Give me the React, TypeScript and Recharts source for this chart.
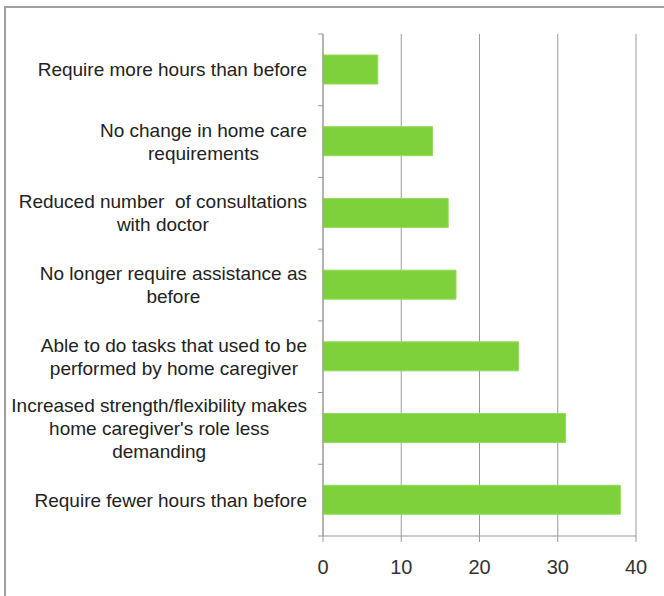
import React from 'react';
import { BarChart, Bar, XAxis, YAxis, CartesianGrid } from 'recharts';

const categories = [
  'Require more hours than before',
  'No change in home care\nrequirements',
  'Reduced number  of consultations\nwith doctor',
  'No longer require assistance as\nbefore',
  'Able to do tasks that used to be\nperformed by home caregiver',
  "Increased strength/flexibility makes\nhome caregiver's role less\ndemanding",
  'Require fewer hours than before',
];
const values = [7, 14, 16, 17, 25, 31, 38];
const xTicks = [0, 10, 20, 30, 40];

const data = categories.map((name, i) => ({ name, value: values[i] }));

const LABEL_FONT = '19px "Liberation Sans", Arial, sans-serif';
const AXIS_COLOR = '#9a9a9a';

let ctx: CanvasRenderingContext2D | null = null;
const measure = (s: string) => {
  if (!ctx) {
    ctx = document.createElement('canvas').getContext('2d');
    if (ctx) ctx.font = LABEL_FONT;
  }
  return ctx ? ctx.measureText(s).width : s.length * 9;
};

const CategoryTick = (props: any) => {
  const { x, y, payload, index } = props;
  const lines: string[] = String(payload.value).split('\n');
  const half = payload.offset ?? 35.8;
  const right = x - 16;
  const widest = Math.max(...lines.map(measure));
  const cx = right - widest / 2;
  const lh = 23;
  const startY = y - ((lines.length - 1) * lh) / 2;
  return (
    <g>
      <line x1={x - 5} x2={x} y1={y - half} y2={y - half} stroke={AXIS_COLOR} />
      {index === categories.length - 1 && (
        <line x1={x - 5} x2={x} y1={y + half} y2={y + half} stroke={AXIS_COLOR} />
      )}
      <text
        x={cx}
        y={startY}
        textAnchor="middle"
        fill="#222"
        style={{ font: LABEL_FONT, whiteSpace: 'pre' }}
      >
        {lines.map((l, i) => (
          <tspan key={i} x={cx} y={startY + i * lh} dominantBaseline="central">
            {l}
          </tspan>
        ))}
      </text>
    </g>
  );
};

const ValueTick = (props: any) => {
  const { x, y, payload } = props;
  return (
    <text
      x={x}
      y={y + 23}
      textAnchor="middle"
      dominantBaseline="central"
      fill="#333"
      style={{ font: '20px "Liberation Sans", Arial, sans-serif' }}
    >
      {payload.value}
    </text>
  );
};

export default function App() {
  return (
    <div style={{ position: 'absolute', left: 0, top: 0, width: 664, height: 596, background: '#fff', overflow: 'hidden' }}>
      <div
        style={{
          position: 'absolute',
          left: 4,
          top: 6,
          width: 700,
          height: 700,
          border: '2px solid #a0a0a0',
          boxSizing: 'border-box',
        }}
      />
      <div style={{ position: 'absolute', left: 0, top: 0 }}>
        <BarChart
          width={664}
          height={596}
          data={data}
          layout="vertical"
          margin={{ top: 34, right: 28, bottom: 0, left: 0 }}
        >
          <CartesianGrid horizontal={false} vertical stroke={AXIS_COLOR} />
          <XAxis
            type="number"
            domain={[0, 40]}
            ticks={xTicks}
            height={60}
            axisLine={{ stroke: AXIS_COLOR }}
            tickLine={{ stroke: AXIS_COLOR }}
            tickSize={6}
            tick={<ValueTick />}
            interval={0}
          />
          <YAxis
            type="category"
            dataKey="name"
            width={323}
            axisLine={{ stroke: AXIS_COLOR }}
            tickLine={false}
            tickSize={0}
            tickMargin={0}
            tick={<CategoryTick />}
            interval={0}
          />
          <Bar dataKey="value" fill="#7fd13b" stroke="#92dc5c" barSize={29} isAnimationActive={false} />
        </BarChart>
      </div>
    </div>
  );
}
